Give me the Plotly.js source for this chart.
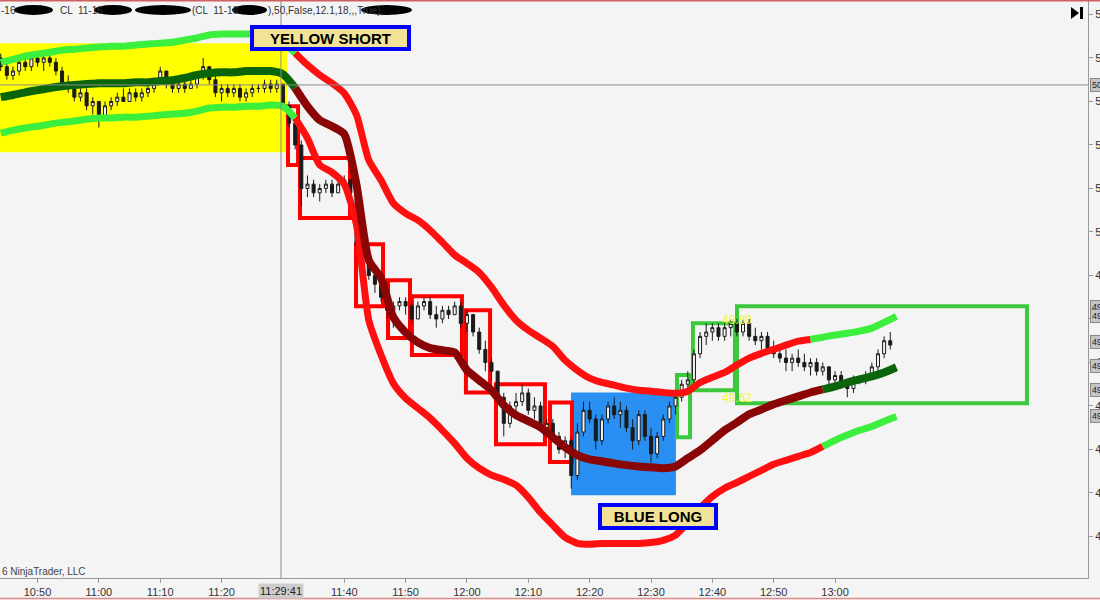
<!DOCTYPE html>
<html><head><meta charset="utf-8">
<script src="https://cdn.plot.ly/plotly-3.0.1.min.js"></script>
<style>html,body{margin:0;padding:0;background:#f4f4f4;overflow:hidden}</style>
</head><body><div id="chart" style="width:1100px;height:600px"></div>
<script>
// ---------- DATA ----------
const sessionDate = '2016-10-14';
const firstBar = '10:44';          // 1-minute bars
const opens = [50.40,50.38,50.36,50.37,50.39,50.38,50.40,50.39,50.40,50.39,
50.37,50.34,50.33,50.31,50.32,50.29,50.30,50.26,50.29,50.30,
50.31,50.30,50.32,50.31,50.32,50.33,50.34,50.37,50.34,50.33,
50.34,50.33,50.34,50.36,50.38,50.35,50.32,50.33,50.32,50.33,
50.31,50.32,50.33,50.33,50.34,50.33,50.34,50.29,50.25,50.20,
50.10,50.11,50.09,50.10,50.11,50.09,50.11,50.12,50.09,49.97,
49.94,49.90,49.88,49.85,49.82,49.83,49.84,49.83,49.80,49.83,
49.84,49.81,49.80,49.82,49.81,49.83,49.79,49.81,49.77,49.73,
49.70,49.68,49.62,49.56,49.60,49.61,49.63,49.59,49.60,49.55,
49.56,49.53,49.50,49.52,49.44,49.54,49.59,49.57,49.52,49.57,
49.60,49.58,49.59,49.55,49.52,49.58,49.53,49.49,49.53,49.57,
49.60,49.62,49.65,49.66,49.72,49.76,49.77,49.78,49.76,49.78,
49.79,49.77,49.79,49.76,49.75,49.76,49.73,49.72,49.71,49.70,
49.71,49.70,49.69,49.70,49.68,49.69,49.66,49.67,49.65,49.64,
49.66,49.66,49.67,49.69,49.72,49.75];
const highs = [50.41,50.39,50.38,50.40,50.40,50.41,50.41,50.41,50.41,50.40,
50.38,50.36,50.34,50.33,50.33,50.31,50.30,50.30,50.31,50.32,
50.33,50.33,50.33,50.33,50.34,50.35,50.38,50.37,50.35,50.35,
50.35,50.35,50.37,50.40,50.38,50.36,50.34,50.34,50.34,50.34,
50.33,50.34,50.34,50.35,50.35,50.35,50.34,50.30,50.26,50.21,
50.13,50.12,50.11,50.12,50.12,50.12,50.13,50.12,50.09,49.98,
49.95,49.92,49.89,49.86,49.84,49.85,49.85,49.84,49.84,49.85,
49.85,49.83,49.83,49.83,49.84,49.84,49.82,49.81,49.78,49.75,
49.71,49.68,49.63,49.61,49.63,49.65,49.64,49.62,49.61,49.57,
49.57,49.54,49.53,49.53,49.56,49.61,49.61,49.58,49.58,49.61,
49.62,49.61,49.60,49.57,49.59,49.59,49.55,49.54,49.58,49.61,
49.63,49.66,49.68,49.73,49.77,49.79,49.79,49.79,49.79,49.80,
49.80,49.80,49.80,49.78,49.77,49.77,49.75,49.74,49.73,49.72,
49.73,49.72,49.71,49.71,49.70,49.69,49.68,49.68,49.66,49.67,
49.67,49.68,49.70,49.73,49.76,49.77];
const lows = [50.37,50.35,50.35,50.36,50.37,50.37,50.38,50.37,50.38,50.36,
50.33,50.32,50.30,50.30,50.28,50.27,50.24,50.26,50.28,50.29,
50.30,50.30,50.30,50.30,50.31,50.32,50.34,50.33,50.32,50.32,
50.32,50.33,50.33,50.35,50.34,50.31,50.30,50.31,50.31,50.30,
50.30,50.31,50.32,50.32,50.32,50.32,50.28,50.24,50.19,50.06,
50.08,50.08,50.07,50.09,50.08,50.09,50.10,50.08,49.96,49.92,
49.89,49.86,49.84,49.80,49.78,49.82,49.81,49.79,49.80,49.82,
49.80,49.78,49.79,49.80,49.81,49.78,49.77,49.76,49.72,49.68,
49.66,49.61,49.53,49.55,49.59,49.60,49.58,49.57,49.54,49.53,
49.52,49.49,49.48,49.41,49.43,49.53,49.56,49.50,49.51,49.56,
49.57,49.55,49.54,49.50,49.51,49.52,49.47,49.48,49.52,49.56,
49.58,49.61,49.63,49.65,49.71,49.74,49.75,49.75,49.75,49.76,
49.76,49.76,49.75,49.74,49.73,49.72,49.71,49.70,49.68,49.68,
49.69,49.68,49.67,49.67,49.67,49.65,49.64,49.64,49.62,49.63,
49.65,49.65,49.66,49.68,49.71,49.73];
const closes = [50.38,50.36,50.37,50.39,50.38,50.40,50.39,50.40,50.39,50.37,
50.34,50.33,50.31,50.32,50.29,50.30,50.26,50.29,50.30,50.31,
50.30,50.32,50.31,50.32,50.33,50.34,50.37,50.34,50.33,50.34,
50.33,50.34,50.36,50.38,50.35,50.32,50.33,50.32,50.33,50.31,
50.32,50.33,50.33,50.34,50.33,50.34,50.29,50.25,50.20,50.10,
50.11,50.09,50.10,50.11,50.09,50.11,50.12,50.09,49.97,49.94,
49.90,49.88,49.85,49.82,49.83,49.84,49.83,49.80,49.83,49.84,
49.81,49.80,49.82,49.81,49.83,49.79,49.81,49.77,49.73,49.70,
49.68,49.62,49.56,49.60,49.61,49.63,49.59,49.60,49.55,49.56,
49.53,49.50,49.52,49.44,49.54,49.59,49.57,49.52,49.57,49.60,
49.58,49.59,49.55,49.52,49.58,49.53,49.49,49.53,49.57,49.60,
49.62,49.65,49.66,49.72,49.76,49.77,49.78,49.76,49.78,49.79,
49.77,49.79,49.76,49.75,49.76,49.73,49.72,49.71,49.70,49.71,
49.70,49.69,49.70,49.68,49.69,49.66,49.67,49.65,49.64,49.66,
49.66,49.67,49.69,49.72,49.75,49.74];

// band values sampled every 2 minutes from 10:44
const bandStepMin = 2;
const upperBand = [50.390,50.397,50.404,50.409,50.413,50.418,50.420,50.423,50.425,50.427,50.427,50.430,50.432,50.434,50.436,50.441,50.446,50.453,50.455,50.455,50.455,50.455,50.455,50.436,50.411,50.384,50.361,50.342,50.319,50.269,50.165,50.119,50.066,50.043,50.027,50.004,49.976,49.947,49.928,49.907,49.873,49.832,49.797,49.774,49.756,49.737,49.705,49.682,49.664,49.654,49.648,49.641,49.636,49.634,49.631,49.629,49.634,49.654,49.666,49.677,49.694,49.710,49.721,49.730,49.740,49.749,49.753,49.758,49.763,49.767,49.772,49.779,49.792,49.806];
const middleBand = [50.310,50.315,50.321,50.326,50.331,50.335,50.338,50.340,50.342,50.342,50.342,50.344,50.344,50.347,50.349,50.354,50.361,50.365,50.367,50.367,50.370,50.370,50.370,50.363,50.331,50.289,50.257,50.243,50.225,50.108,49.935,49.894,49.804,49.769,49.746,49.733,49.728,49.723,49.682,49.659,49.636,49.602,49.579,49.565,49.551,49.528,49.505,49.487,49.477,49.473,49.468,49.464,49.461,49.459,49.457,49.461,49.480,49.498,49.521,49.544,49.562,49.581,49.592,49.604,49.613,49.622,49.631,49.638,49.645,49.654,49.661,49.668,49.677,49.689];
const lowerBand = [50.227,50.234,50.239,50.243,50.248,50.252,50.255,50.259,50.262,50.262,50.264,50.264,50.266,50.269,50.271,50.273,50.278,50.285,50.287,50.287,50.289,50.289,50.292,50.289,50.262,50.216,50.154,50.137,50.110,50.016,49.797,49.717,49.652,49.618,49.595,49.572,49.544,49.514,49.480,49.457,49.441,49.431,49.418,49.390,49.355,49.326,49.298,49.284,49.282,49.284,49.284,49.284,49.284,49.286,49.291,49.303,49.332,49.365,49.392,49.411,49.424,49.438,49.452,49.466,49.475,49.484,49.493,49.507,49.521,49.533,49.544,49.553,49.565,49.576];

// zones: [start time, end time, top price, bottom price]
const yellowZone = ['10:43:53','11:30:40',50.434,50.183];
const redZones = [
 ['11:30:50','11:32:28',50.289,50.154],
 ['11:32:47','11:40:56',50.170,50.032],
 ['11:41:55','11:46:19',49.972,49.829],
 ['11:47:08','11:50:43',49.889,49.756],
 ['11:51:02','11:59:11',49.852,49.717],
 ['11:59:50','12:03:46',49.820,49.631],
 ['12:04:44','12:12:43',49.650,49.512],
 ['12:13:32','12:17:07',49.608,49.471]];
const blueZone = ['12:16:58','12:34:04',49.631,49.395];
const greenZones = [
 ['12:34:14','12:36:22',49.671,49.528],
 ['12:36:50','12:43:41',49.790,49.636],
 ['12:44:01','13:31:17',49.829,49.606]];
const rightTags = [50.338,49.827,49.806,49.746,49.691,49.636,49.576];
const cursorTime = '11:29:41', cursorPrice = 50.338;
const xTickTimes = ['10:50','11:00','11:10','11:20','11:40','11:50','12:00','12:10','12:20','12:30','12:40','12:50','13:00'];

// ---------- BUILD ----------
function pad(n){return (n<10?'0':'')+n;}
function stamp(totalSec){const h=Math.floor(totalSec/3600),m=Math.floor((totalSec%3600)/60),s=Math.round(totalSec%60);return sessionDate+' '+pad(h)+':'+pad(m)+':'+pad(s);}
function hms(str){const p=str.split(':').map(Number);return p[0]*3600+p[1]*60+(p[2]||0);}
const t0 = hms(firstBar);
const T = s => sessionDate+' '+(s.length===5? s+':00': s);
const barTimes = opens.map((_,i)=>stamp(t0+i*60));
const bandTimes = upperBand.map((_,i)=>stamp(t0+i*bandStepMin*60));

const W=1088,H=578;
const PX = x=>x/W, PY = y=>1-y/H;

const traces = [{
  type:'candlestick', x:barTimes, open:opens, high:highs, low:lows, close:closes,
  increasing:{line:{color:'#1a1a1a',width:1},fillcolor:'#f4f4f4'},
  decreasing:{line:{color:'#1a1a1a',width:1},fillcolor:'#1a1a1a'},
  whiskerwidth:0, hoverinfo:'skip', showlegend:false
}];
const LG='#3cef3c', RD='#ff1010', DG='#0a640a', DR='#8a0606';
function addBand(vals, runs, width){
  runs.forEach(r=>{
    traces.push({type:'scatter',mode:'lines',x:bandTimes.slice(r[0],r[1]+1),y:vals.slice(r[0],r[1]+1),
      line:{color:r[2],width:width,shape:'spline',smoothing:0.6},hoverinfo:'skip',showlegend:false});
  });
}
addBand(upperBand, [[0,24,LG],[24,66,RD],[66,73,LG]], 7);
addBand(lowerBand, [[0,24,LG],[24,67,RD],[67,73,LG]], 7);
addBand(middleBand,[[0,24,DG],[24,67,DR],[67,73,DG]], 8);

const shapes = [];
shapes.push({type:'rect',xref:'x',yref:'y',x0:T(yellowZone[0]),x1:T(yellowZone[1]),y0:yellowZone[3],y1:yellowZone[2],fillcolor:'#ffff00',line:{width:0},layer:'below'});
shapes.push({type:'rect',xref:'x',yref:'y',x0:T(blueZone[0]),x1:T(blueZone[1]),y0:blueZone[3],y1:blueZone[2],fillcolor:'#2a8ff2',line:{width:0},layer:'below'});
redZones.forEach(z=>shapes.push({type:'rect',xref:'x',yref:'y',x0:T(z[0]),x1:T(z[1]),y0:z[3],y1:z[2],line:{color:'#ff0000',width:4},layer:'below'}));
greenZones.forEach(z=>shapes.push({type:'rect',xref:'x',yref:'y',x0:T(z[0]),x1:T(z[1]),y0:z[3],y1:z[2],line:{color:'#3cc83c',width:4},layer:'below'}));
// crosshair
shapes.push({type:'line',xref:'x',yref:'paper',x0:T(cursorTime),x1:T(cursorTime),y0:0,y1:1,line:{color:'#8c8c8c',width:1}});
shapes.push({type:'line',xref:'paper',yref:'y',x0:0,x1:1,y0:cursorPrice,y1:cursorPrice,line:{color:'#8c8c8c',width:1}});
// window borders
shapes.push({type:'line',xref:'paper',yref:'paper',x0:-0.01,x1:1.02,y0:PY(0.5),y1:PY(0.5),line:{color:'#d06060',width:2}});
shapes.push({type:'line',xref:'paper',yref:'paper',x0:-0.01,x1:1.02,y0:PY(598.5),y1:PY(598.5),line:{color:'#e08a8a',width:1.5}});
// redaction blobs in header
[[14,53],[94,132],[135,191],[232,267],[361,412]].forEach(b=>shapes.push({type:'circle',xref:'paper',yref:'paper',x0:PX(b[0]),x1:PX(b[1]),y0:PY(15),y1:PY(5),fillcolor:'#000',line:{width:0}}));
// play-to-end icon
shapes.push({type:'path',xref:'paper',yref:'paper',path:`M ${PX(1071)} ${PY(7)} L ${PX(1071)} ${PY(19)} L ${PX(1079)} ${PY(13)} Z`,fillcolor:'#000',line:{width:0}});
shapes.push({type:'rect',xref:'paper',yref:'paper',x0:PX(1080),x1:PX(1083),y0:PY(19),y1:PY(7),fillcolor:'#000',line:{width:0}});

const annotations = [];
const hdr = (x,txt)=>annotations.push({xref:'paper',yref:'paper',x:PX(x),y:PY(10),xanchor:'left',yanchor:'middle',text:txt,showarrow:false,font:{family:'Liberation Sans, Arial',size:10,color:'#333'}});
hdr(-1,'-16'); hdr(58,'CL  11-16'); hdr(190,'(CL  11-16'); hdr(266,'),50,False,12.1,18,,,True),');
annotations.push({xref:'paper',yref:'paper',x:0,y:PY(571),xanchor:'left',yanchor:'middle',text:'6 NinjaTrader, LLC',showarrow:false,font:{family:'Liberation Sans, Arial',size:10,color:'#444'}});
annotations.push({x:T('11:37:46'),y:50.446,xref:'x',yref:'y',text:'<b>YELLOW SHORT</b>',showarrow:false,bgcolor:'#f2e296',bordercolor:'#0000ff',borderwidth:4,borderpad:0,width:153,height:18,font:{family:'Liberation Sans, Arial',size:15,color:'#000'}});
annotations.push({x:T('12:31:08'),y:49.345,xref:'x',yref:'y',text:'<b>BLUE LONG</b>',showarrow:false,bgcolor:'#f2e296',bordercolor:'#0000ff',borderwidth:4,borderpad:0,width:112,height:19,font:{family:'Liberation Sans, Arial',size:15,color:'#000'}});
annotations.push({x:T('12:44:00'),y:49.797,xref:'x',yref:'y',text:'49.80',showarrow:false,font:{family:'Liberation Sans, Arial',size:12,color:'#f4f43c'}});
annotations.push({x:T('12:44:00'),y:49.618,xref:'x',yref:'y',text:'49.62',showarrow:false,font:{family:'Liberation Sans, Arial',size:12,color:'#f4f43c'}});
annotations.push({x:T(cursorTime),xref:'x',yref:'paper',y:0,yanchor:'top',yshift:-5,text:'11:29:41',showarrow:false,bgcolor:'#cdcdcd',font:{family:'Liberation Sans, Arial',size:11,color:'#222'}});
rightTags.forEach(p=>annotations.push({xref:'paper',yref:'y',x:1,y:p,xanchor:'left',xshift:2,text:p.toFixed(2),showarrow:false,bgcolor:'#c4c4c4',bordercolor:'#888',borderwidth:1,borderpad:1,font:{family:'Liberation Sans, Arial',size:9,color:'#222'}}));

const layout = {
  width:1100,height:600,margin:{l:0,r:12,t:0,b:22},
  paper_bgcolor:'#f4f4f4',plot_bgcolor:'#f4f4f4',showlegend:false,
  xaxis:{type:'date',range:[T('10:43:53'),T('13:41:14')],rangeslider:{visible:false},
    tickvals:xTickTimes.map(T),ticktext:xTickTimes,ticks:'outside',ticklen:4,tickcolor:'#999',
    showline:true,linecolor:'#999',showgrid:false,zeroline:false,
    tickfont:{family:'Liberation Sans, Arial',size:11,color:'#333'}},
  yaxis:{side:'right',range:[49.2045,50.5333],tick0:49.3,dtick:0.1,tickformat:'.2f',ticks:'outside',ticklen:4,tickcolor:'#999',
    showline:true,linecolor:'#999',showgrid:false,zeroline:false,
    tickfont:{family:'Liberation Sans, Arial',size:11,color:'#333'}},
  shapes:shapes, annotations:annotations
};
Plotly.newPlot('chart',traces,layout,{displayModeBar:false,staticPlot:true});
</script></body></html>
